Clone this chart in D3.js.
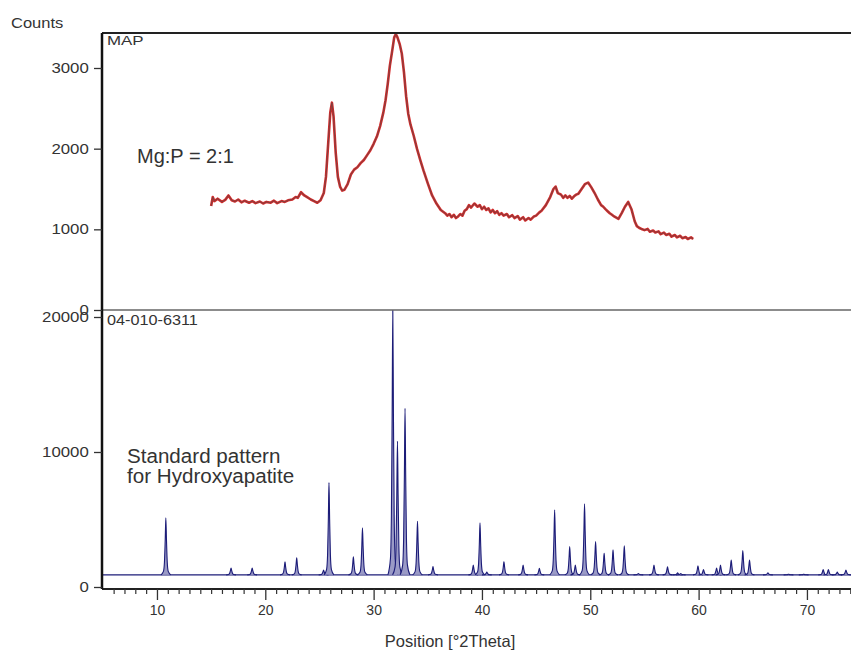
<!DOCTYPE html>
<html>
<head>
<meta charset="utf-8">
<script src="https://cdn.jsdelivr.net/npm/d3@7"></script>
<style>
  body { margin: 0; background: #fff; }
  text { font-family: "Liberation Sans", Arial, sans-serif; fill: #333; }
</style>
</head>
<body>
<div id="chart"></div>
<script>
// measured pattern (top) : position in deg 2theta and counts
var mapPos = [15.0, 15.15, 15.3, 15.6, 16.0, 16.3, 16.6, 16.9, 17.2, 17.5, 17.8, 18.1, 18.5, 18.8, 19.1, 19.5, 19.8, 20.1, 20.5, 20.8, 21.1, 21.5, 21.8, 22.1, 22.5, 22.8, 23.0, 23.3, 23.6, 23.9, 24.2, 24.5, 24.8, 25.1, 25.4, 25.6, 25.8, 26.0, 26.15, 26.3, 26.5, 26.7, 26.9, 27.1, 27.3, 27.6, 27.9, 28.2, 28.5, 28.8, 29.1, 29.4, 29.7, 30.0, 30.3, 30.6, 30.9, 31.1, 31.3, 31.5, 31.7, 31.9, 32.05, 32.2, 32.4, 32.6, 32.8, 33.0, 33.2, 33.4, 33.7, 34.0, 34.3, 34.6, 35.0, 35.4, 35.8, 36.2, 36.6, 36.8, 37.0, 37.2, 37.4, 37.6, 37.8, 38.0, 38.2, 38.4, 38.6, 38.8, 39.0, 39.3, 39.6, 39.8, 40.0, 40.2, 40.4, 40.6, 40.8, 41.0, 41.2, 41.4, 41.6, 41.8, 42.0, 42.3, 42.5, 42.8, 43.0, 43.3, 43.5, 43.8, 44.0, 44.3, 44.5, 44.8, 45.0, 45.3, 45.5, 45.9, 46.3, 46.6, 46.8, 47.0, 47.3, 47.5, 47.7, 47.9, 48.1, 48.3, 48.5, 48.7, 48.9, 49.2, 49.5, 49.8, 50.1, 50.4, 50.7, 51.0, 51.2, 51.4, 51.6, 51.8, 52.0, 52.2, 52.4, 52.6, 52.9, 53.2, 53.5, 53.8, 54.1, 54.3, 54.5, 54.8, 55.0, 55.3, 55.5, 55.8, 56.0, 56.3, 56.5, 56.8, 57.0, 57.3, 57.5, 57.8, 58.0, 58.3, 58.5, 58.8, 59.0, 59.3, 59.5, 59.8];
var mapCounts = [1290, 1400, 1350, 1380, 1340, 1365, 1420, 1360, 1345, 1370, 1335, 1355, 1330, 1350, 1325, 1345, 1320, 1340, 1330, 1355, 1325, 1350, 1340, 1360, 1370, 1400, 1390, 1460, 1420, 1395, 1370, 1350, 1330, 1360, 1450, 1650, 2050, 2450, 2570, 2400, 1950, 1650, 1530, 1480, 1490, 1560, 1680, 1740, 1770, 1820, 1860, 1920, 1980, 2060, 2150, 2280, 2450, 2600, 2800, 3030, 3200, 3380, 3420, 3380, 3300, 3180, 2950, 2650, 2430, 2300, 2160, 2000, 1860, 1730, 1570, 1420, 1320, 1240, 1200, 1170, 1190, 1150, 1180, 1140, 1160, 1190, 1170, 1230, 1250, 1300, 1270, 1320, 1280, 1300, 1250, 1280, 1240, 1260, 1210, 1240, 1200, 1225, 1180, 1200, 1170, 1190, 1150, 1175, 1140, 1165, 1120, 1150, 1110, 1140, 1120, 1160, 1170, 1210, 1230, 1300, 1400, 1500, 1530, 1450, 1430, 1390, 1420, 1390, 1415, 1380, 1410, 1430, 1440, 1500, 1560, 1580, 1520, 1450, 1370, 1300, 1280, 1250, 1225, 1200, 1180, 1160, 1145, 1130, 1200, 1280, 1340, 1250, 1100, 1040, 1020, 1000, 990, 1005, 970, 985, 960, 975, 940, 960, 930, 945, 910, 930, 900, 920, 890, 905, 880, 900, 880];

// reference pattern 04-010-6311 (bottom) : peak positions and peak counts
var hapPos = [10.82, 16.84, 18.79, 21.82, 22.90, 25.38, 25.88, 28.13, 28.97, 31.77, 32.20, 32.90, 34.05, 35.48, 39.20, 39.82, 40.45, 42.03, 43.80, 45.30, 46.71, 48.10, 48.62, 49.47, 50.49, 51.28, 52.10, 53.14, 54.44, 55.88, 57.13, 58.06, 58.35, 59.94, 60.45, 61.66, 62.02, 63.01, 64.08, 64.70, 66.40, 68.30, 69.70, 71.50, 71.98, 72.80, 73.60, 74.60];
var hapCounts = [5130, 1410, 1410, 1860, 2160, 1260, 7730, 2230, 4390, 20600, 10800, 13230, 4860, 1510, 1630, 4760, 1100, 1880, 1630, 1380, 5720, 3000, 1630, 6170, 3370, 2500, 2750, 3050, 1000, 1630, 1500, 1050, 1000, 1570, 1300, 1400, 1630, 2000, 2700, 2000, 1050, 950, 950, 1300, 1300, 1100, 1260, 1300];
var hapBase = 900;

var xTicksMajor = [10, 20, 30, 40, 50, 60, 70];
var yTicksTop = [0, 1000, 2000, 3000];
var yTicksBottom = [0, 10000, 20000];

var svgWidth = 851;
var svgHeight = 651;

var leftX = 102;
var panelTop = 33;
var panelMid = 310;
var axisY = 589;

var svg = d3.select("#chart")
  .append("svg")
  .attr("width", svgWidth)
  .attr("height", svgHeight);

var xScale = d3.scaleLinear().domain([5, 75]).range([102.8, 861.1]);
var yTop = d3.scaleLinear().domain([0, 3000]).range([310, 68]);
var yBottom = d3.scaleLinear().domain([0, 20000]).range([587, 317]);

// clip paths for both panels
var defs = svg.append("defs");
defs.append("clipPath").attr("id", "clipTop")
  .append("rect").attr("x", leftX).attr("y", panelTop).attr("width", svgWidth - leftX).attr("height", panelMid - panelTop);
defs.append("clipPath").attr("id", "clipBottom")
  .append("rect").attr("x", leftX).attr("y", panelMid).attr("width", svgWidth - leftX).attr("height", axisY - panelMid);

// top curve: red with dark core
var mapData = mapPos.map(function(p, i) { return [p, mapCounts[i]]; });
var mapLine = d3.line()
  .x(d => xScale(d[0]))
  .y(d => yTop(d[1]));

var topGroup = svg.append("g").attr("clip-path", "url(#clipTop)");
topGroup.append("path")
  .datum(mapData)
  .attr("d", mapLine)
  .attr("fill", "none")
  .attr("stroke", "#d42a2a")
  .attr("stroke-width", 2.6)
  .attr("stroke-linejoin", "round");
topGroup.append("path")
  .datum(mapData)
  .attr("d", mapLine)
  .attr("fill", "none")
  .attr("stroke", "#6a4545")
  .attr("stroke-width", 0.8);

// bottom pattern: baseline + peaks
var bottomGroup = svg.append("g").attr("clip-path", "url(#clipBottom)");
bottomGroup.append("line")
  .attr("x1", leftX).attr("x2", svgWidth)
  .attr("y1", yBottom(hapBase)).attr("y2", yBottom(hapBase))
  .attr("stroke", "#1c1c78")
  .attr("stroke-width", 1.2);

// peak shape: [offset in deg, fraction of height]
var shape = [[-0.45, 0], [-0.22, 0.06], [-0.13, 0.22], [-0.06, 0.6], [0, 1], [0.06, 0.6], [0.13, 0.22], [0.22, 0.06], [0.45, 0]];
var peakLine = d3.line().curve(d3.curveMonotoneX);

bottomGroup.selectAll(".peak")
  .data(hapPos)
  .enter()
  .append("path")
  .attr("class", "peak")
  .attr("d", function(p, i) {
    var h = hapCounts[i] - hapBase;
    return peakLine(shape.map(s => [xScale(p + s[0]), yBottom(hapBase + s[1] * h)]));
  })
  .attr("fill", "#9a9ac6")
  .attr("stroke", "#1c1c78")
  .attr("stroke-width", 1.1);

// frame lines
svg.append("line")
  .attr("x1", leftX).attr("x2", svgWidth)
  .attr("y1", panelTop).attr("y2", panelTop)
  .attr("stroke", "#222").attr("stroke-width", 2);
svg.append("line")
  .attr("x1", leftX).attr("x2", svgWidth)
  .attr("y1", panelMid).attr("y2", panelMid)
  .attr("stroke", "#666").attr("stroke-width", 1.5);
svg.append("line")
  .attr("x1", leftX).attr("x2", svgWidth)
  .attr("y1", axisY).attr("y2", axisY)
  .attr("stroke", "#222").attr("stroke-width", 2);
svg.append("line")
  .attr("x1", leftX).attr("x2", leftX)
  .attr("y1", panelTop).attr("y2", axisY)
  .attr("stroke", "#111").attr("stroke-width", 2.5);

// y axes
function styleYAxis(g) {
  g.select(".domain").remove();
  g.selectAll(".tick line").attr("stroke", "#333").attr("stroke-width", 1.3);
  g.selectAll(".tick text")
    .attr("font-size", 14)
    .attr("font-family", "Liberation Sans, Arial, sans-serif")
    .attr("fill", "#333")
    .attr("transform", "scale(1.2,1)");
}

svg.append("g")
  .attr("transform", `translate(${leftX}, 0)`)
  .call(d3.axisLeft(yTop).tickValues(yTicksTop).tickSize(8).tickPadding(3).tickFormat(d3.format("d")))
  .call(styleYAxis);

svg.append("g")
  .attr("transform", `translate(${leftX}, 0)`)
  .call(d3.axisLeft(yBottom).tickValues(yTicksBottom).tickSize(8).tickPadding(3).tickFormat(d3.format("d")))
  .call(styleYAxis);

// x axis: minor ticks every degree, major every ten
var minorTicks = d3.range(6, 76, 1).filter(d => d % 10 !== 0);
svg.append("g")
  .attr("transform", `translate(0, ${axisY})`)
  .call(d3.axisBottom(xScale).tickValues(minorTicks).tickSize(5).tickFormat(""))
  .call(g => g.select(".domain").remove())
  .call(g => g.selectAll(".tick line").attr("stroke", "#333").attr("stroke-width", 1.2));

svg.append("g")
  .attr("transform", `translate(0, ${axisY})`)
  .call(d3.axisBottom(xScale).tickValues(xTicksMajor).tickSize(11).tickPadding(5))
  .call(g => g.select(".domain").remove())
  .call(g => g.selectAll(".tick line").attr("stroke", "#333").attr("stroke-width", 1.3))
  .call(g => g.selectAll(".tick text")
    .attr("font-size", 14)
    .attr("font-family", "Liberation Sans, Arial, sans-serif")
    .attr("fill", "#333"));

// labels
function label(txt, x, y, size, sx, anchor) {
  svg.append("text")
    .attr("transform", `translate(${x}, ${y}) scale(${sx}, 1)`)
    .attr("font-size", size)
    .attr("text-anchor", anchor || "start")
    .text(txt);
}

label("Counts", 11, 28, 14, 1.18);
label("MAP", 107, 45, 13.5, 1.25);
label("04-010-6311", 107, 325, 14, 1.16);
label("Mg:P = 2:1", 137, 163, 20, 1);
label("Standard pattern", 127, 463, 20, 1.03);
label("for Hydroxyapatite", 127, 483, 20, 1.03);
label("Position [°2Theta]", 450, 647, 16.5, 1, "middle");
</script>
</body>
</html>
